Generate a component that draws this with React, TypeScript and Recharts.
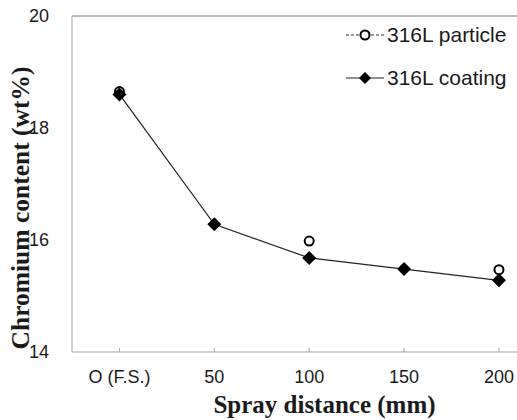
import { Line, LineChart, ReferenceLine, XAxis, YAxis } from "recharts";

const categories = ["O (F.S.)", "50", "100", "150", "200"];
const particle = [18.65, null, 15.98, null, 15.47];
const coating = [18.6, 16.28, 15.68, 15.48, 15.28];
const yTicks = [14, 16, 18, 20];

const data = categories.map((label, i) => ({
  x: i,
  label,
  particle: particle[i],
  coating: coating[i],
}));

const TEXT = "#1a1a1a";
const AXIS = "#a3a3a3";
const SANS = "'Liberation Sans', Arial, sans-serif";
const SERIF = "'Liberation Serif', 'Times New Roman', serif";

function XTick(props: any) {
  const { x, y, payload } = props;
  return (
    <g>
      <line x1={x} x2={x} y1={y} y2={y - 4} stroke={AXIS} strokeWidth={1} />
      <text x={x} y={y + 31} textAnchor="middle" fontFamily={SANS} fontSize={18} fill={TEXT}>
        {categories[payload.value]}
      </text>
    </g>
  );
}

function Diamond(props: any) {
  const { cx, cy } = props;
  if (cx == null || cy == null) return null;
  const s = 7;
  return (
    <polygon
      points={`${cx},${cy - s} ${cx + s},${cy} ${cx},${cy + s} ${cx - s},${cy}`}
      fill="#000"
    />
  );
}

function LegendBox() {
  const row = { display: "flex", alignItems: "center", height: 43 } as const;
  return (
    <div
      style={{
        position: "absolute",
        top: 13,
        left: 346,
        fontFamily: SANS,
        fontSize: 21,
        color: TEXT,
        whiteSpace: "nowrap",
      }}
    >
      <div style={row}>
        <svg width={38} height={14} style={{ marginRight: 3 }}>
          <line x1={0} x2={38} y1={7} y2={7} stroke="#333" strokeWidth={1} strokeDasharray="3 2" />
          <circle cx={19} cy={7} r={4.5} fill="#fff" stroke="#000" strokeWidth={2} />
        </svg>
        <span>316L particle</span>
      </div>
      <div style={row}>
        <svg width={38} height={14} style={{ marginRight: 3 }}>
          <line x1={0} x2={38} y1={7} y2={7} stroke="#222" strokeWidth={1.2} />
          <polygon points="19,1 25,7 19,13 13,7" fill="#000" />
        </svg>
        <span>316L coating</span>
      </div>
    </div>
  );
}

export default function App() {
  return (
    <div style={{ position: "absolute", left: 0, top: 0, width: 517, height: 420, background: "#fff" }}>
      <LineChart width={517} height={420} data={data} margin={{ top: 16, right: 0, left: 0, bottom: 0 }}>
        <XAxis
          dataKey="x"
          type="number"
          domain={[-0.5, 4.19]}
          ticks={[0, 1, 2, 3, 4]}
          height={68}
          stroke={AXIS}
          tickLine={false}
          tickSize={0}
          tickMargin={0}
          tick={(p: any) => <XTick {...p} />}
          label={{
            content: (p: any) => {
              const vb = p.viewBox;
              return (
                <text
                  x={vb.x + vb.width / 2 + 30}
                  y={vb.y + 61}
                  textAnchor="middle"
                  fontFamily={SERIF}
                  fontWeight="bold"
                  fontSize={25}
                  fill={TEXT}
                >
                  Spray distance (mm)
                </text>
              );
            },
          }}
        />
        <YAxis
          type="number"
          domain={[14, 20]}
          ticks={yTicks}
          width={72}
          stroke={AXIS}
          tickLine={false}
          tickMargin={17}
          tick={{ fontFamily: SANS, fontSize: 18, fill: TEXT }}
          label={{
            content: (p: any) => {
              const vb = p.viewBox;
              const cy = vb.y + vb.height / 2 + 24;
              return (
                <text
                  x={20}
                  y={cy}
                  transform={`rotate(-90, 20, ${cy})`}
                  textAnchor="middle"
                  dominantBaseline="central"
                  fontFamily={SERIF}
                  fontWeight="bold"
                  fontSize={25.5}
                  fill={TEXT}
                >
                  Chromium content (wt%)
                </text>
              );
            },
          }}
        />
        <ReferenceLine y={20} stroke={AXIS} strokeWidth={1.5} />
        <Line
          dataKey="particle"
          stroke="none"
          connectNulls
          dot={{ r: 4.5, fill: "#fff", stroke: "#000", strokeWidth: 2 }}
          activeDot={false}
          isAnimationActive={false}
        />
        <Line
          dataKey="coating"
          type="linear"
          stroke="#222"
          strokeWidth={1.2}
          dot={(p: any) => <Diamond key={p.index} {...p} />}
          activeDot={false}
          isAnimationActive={false}
        />
      </LineChart>
      <LegendBox />
    </div>
  );
}
